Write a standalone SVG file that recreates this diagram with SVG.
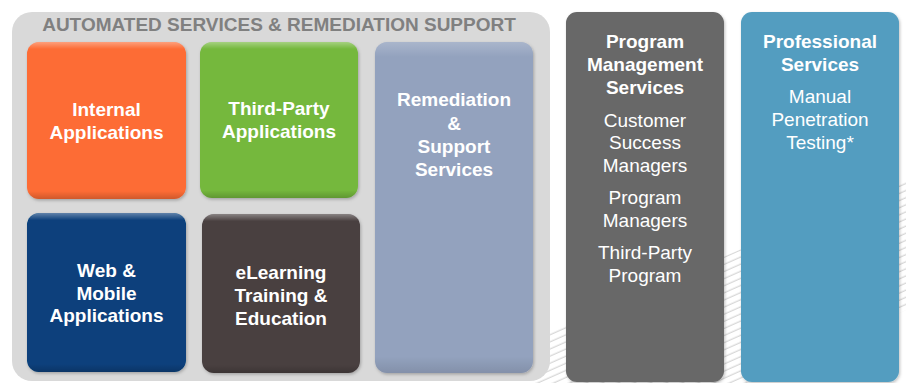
<svg xmlns="http://www.w3.org/2000/svg" width="906" height="383" viewBox="0 0 906 383">
<style>
text{font-family:"Liberation Sans",Arial,sans-serif;font-size:19px;text-anchor:middle;fill:#ffffff}
.b{font-weight:bold}
.title{font-weight:bold;fill:#808080}
.bev{fill:url(#bevel)}
</style>
<defs>
<linearGradient id="bevel" x1="0" y1="0" x2="0" y2="1">
<stop offset="0" stop-color="#ffffff" stop-opacity="0.35"/>
<stop offset="0.045" stop-color="#ffffff" stop-opacity="0"/>
<stop offset="0.95" stop-color="#000000" stop-opacity="0"/>
<stop offset="1" stop-color="#000000" stop-opacity="0.18"/>
</linearGradient>
<pattern id="hatch" width="8" height="6.5" patternUnits="userSpaceOnUse" patternTransform="rotate(-24)">
<line x1="0" y1="3" x2="8" y2="3" stroke="#c6c6c6" stroke-width="0.9"/>
</pattern>
<clipPath id="band"><polygon points="530,340 906,178 906,310 720,395 530,395"/></clipPath>
<filter id="sh" x="-5%" y="-5%" width="110%" height="110%">
<feDropShadow dx="1" dy="1.5" stdDeviation="1.5" flood-color="#000" flood-opacity="0.25"/>
</filter>
</defs>
<rect width="906" height="383" fill="#ffffff"/>
<rect x="520" y="160" width="386" height="223" fill="url(#hatch)" clip-path="url(#band)"/>
<g id="automated">
<rect x="12" y="12" width="538" height="369" rx="20" fill="#d9d9d9"/>
<text class="title" x="279" y="31">AUTOMATED SERVICES &amp; REMEDIATION SUPPORT</text>
</g>
<g id="internal">
<rect x="27" y="42" width="159" height="157" rx="12" fill="#fd6c35" filter="url(#sh)"/>
<rect x="27" y="42" width="159" height="157" rx="12" class="bev"/>
<text class="b" x="106.5" y="116">Internal</text>
<text class="b" x="106.5" y="139">Applications</text>
</g>
<g id="thirdparty">
<rect x="200" y="42" width="158" height="156" rx="12" fill="#74b83e" filter="url(#sh)"/>
<rect x="200" y="42" width="158" height="156" rx="12" class="bev"/>
<text class="b" x="279" y="115">Third-Party</text>
<text class="b" x="279" y="138">Applications</text>
</g>
<g id="remediation">
<rect x="375" y="42" width="158" height="331" rx="12" fill="#93a2be" filter="url(#sh)"/>
<rect x="375" y="42" width="158" height="331" rx="12" class="bev" opacity="0.6"/>
<text class="b" x="454" y="106">Remediation</text>
<text class="b" x="454" y="130">&amp;</text>
<text class="b" x="454" y="153">Support</text>
<text class="b" x="454" y="176">Services</text>
</g>
<g id="webmobile">
<rect x="27" y="213" width="159" height="159" rx="12" fill="#073f7c" filter="url(#sh)"/>
<rect x="27" y="213" width="159" height="159" rx="12" class="bev"/>
<text class="b" x="106.5" y="277">Web &amp;</text>
<text class="b" x="106.5" y="300">Mobile</text>
<text class="b" x="106.5" y="322">Applications</text>
</g>
<g id="elearning">
<rect x="202" y="214" width="158" height="159" rx="12" fill="#483f40" filter="url(#sh)"/>
<rect x="202" y="214" width="158" height="159" rx="12" class="bev"/>
<text class="b" x="281" y="279">eLearning</text>
<text class="b" x="281" y="302">Training &amp;</text>
<text class="b" x="281" y="325">Education</text>
</g>
<g id="program">
<rect x="566" y="12" width="158" height="370" rx="11" fill="#676767" filter="url(#sh)"/>
<text class="b" x="645" y="48">Program</text>
<text class="b" x="645" y="71">Management</text>
<text class="b" x="645" y="94">Services</text>
<text x="645" y="127">Customer</text>
<text x="645" y="149">Success</text>
<text x="645" y="172">Managers</text>
<text x="645" y="204">Program</text>
<text x="645" y="227">Managers</text>
<text x="645" y="259">Third-Party</text>
<text x="645" y="282">Program</text>
</g>
<g id="professional">
<rect x="741" y="12" width="158" height="370" rx="11" fill="#529dc0" filter="url(#sh)"/>
<text class="b" x="820" y="48">Professional</text>
<text class="b" x="820" y="71">Services</text>
<text x="820" y="103">Manual</text>
<text x="820" y="126">Penetration</text>
<text x="820" y="149">Testing*</text>
</g>
<g id="connectors"/>
</svg>
